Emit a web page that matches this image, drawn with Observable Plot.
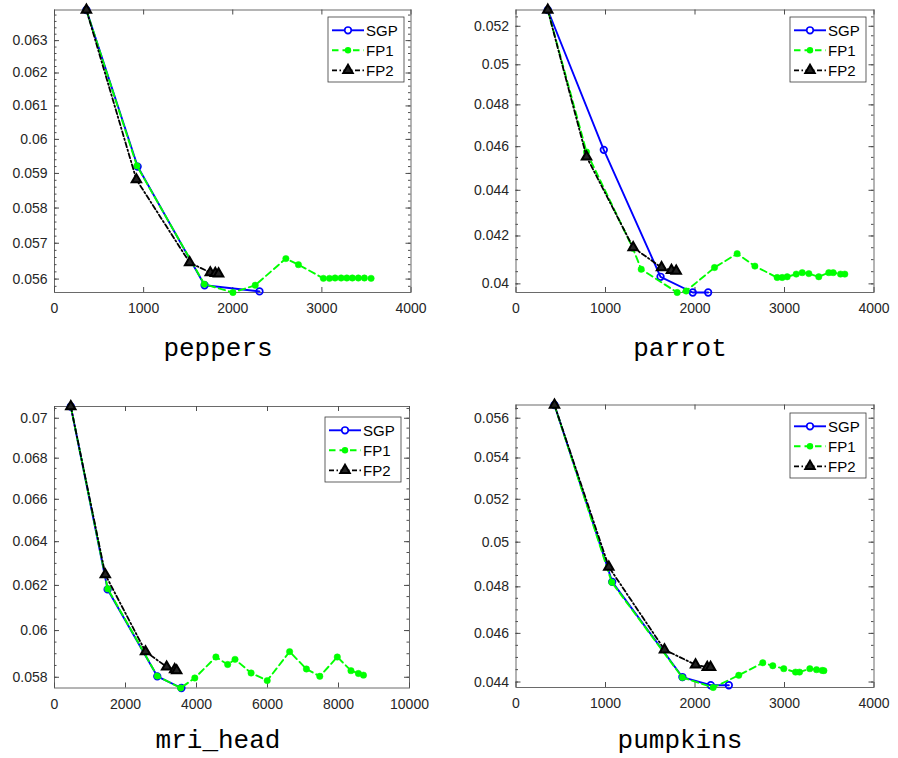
<!DOCTYPE html>
<html><head><meta charset="utf-8">
<script src="https://cdn.jsdelivr.net/npm/d3@7"></script>
<script src="https://cdn.jsdelivr.net/npm/@observablehq/plot@0.6"></script>
<style>
body{margin:0;background:#fff;}
#fig{position:relative;width:898px;height:758px;overflow:hidden;background:#fff;}
.title{position:absolute;font-family:"Liberation Mono","Courier New",monospace;font-size:26px;color:#000;transform:translate(-50%,-50%);white-space:nowrap;}
</style></head><body><div id="fig"></div>
<script>
// ---------- data ----------
const seriesNames = ["SGP", "FP1", "FP2"];
const panelNames = ["peppers", "parrot", "mri_head", "pumpkins"];

// peppers
const sgpX1 = [358, 933, 1684, 2300];
const sgpY1 = [0.06396, 0.05920, 0.05583, 0.05566];
const fp1X1 = [358, 925, 1681, 2002, 2252, 2596, 2737, 3017, 3085, 3148, 3216, 3280, 3342, 3409, 3477, 3552];
const fp1Y1 = [0.06396, 0.05922, 0.05586, 0.05563, 0.05583, 0.05657, 0.05640, 0.05602, 0.05602, 0.05603, 0.05603, 0.05603, 0.05603, 0.05603, 0.05603, 0.05602];
const fp2X1 = [358, 919, 1516, 1748, 1804, 1841];
const fp2Y1 = [0.06396, 0.05882, 0.05646, 0.05618, 0.05616, 0.05615];

// parrot
const sgpX2 = [355, 981, 1615, 1975, 2147];
const sgpY2 = [0.05287, 0.04585, 0.04029, 0.03965, 0.03965];
const fp1X2 = [355, 788, 1305, 1399, 1801, 1901, 2218, 2471, 2669, 2918, 2974, 3030, 3131, 3198, 3272, 3383, 3495, 3544, 3626, 3674];
const fp1Y2 = [0.05287, 0.04575, 0.04148, 0.0406, 0.03965, 0.03971, 0.04067, 0.04125, 0.04073, 0.04026, 0.04026, 0.04029, 0.0404, 0.04046, 0.04042, 0.04029, 0.04046, 0.04046, 0.0404, 0.0404];
const fp2X2 = [355, 788, 1309, 1626, 1737, 1790];
const fp2Y2 = [0.05287, 0.04553, 0.04151, 0.04067, 0.04056, 0.04053];

// mri_head
const sgpX3 = [459, 1496, 2895, 3575];
const sgpY3 = [0.0706, 0.06182, 0.05804, 0.05755];
const fp1X3 = [459, 1500, 2895, 3555, 3952, 4547, 4878, 5085, 5538, 5992, 6623, 7096, 7473, 7966, 8351, 8561, 8703];
const fp1Y3 = [0.0706, 0.06185, 0.05805, 0.05755, 0.05797, 0.05886, 0.05854, 0.05876, 0.05818, 0.05786, 0.05909, 0.05835, 0.05804, 0.05886, 0.05828, 0.05816, 0.05809];
const fp2X3 = [459, 1431, 2564, 3159, 3385, 3442];
const fp2Y3 = [0.0706, 0.06249, 0.05909, 0.05844, 0.05833, 0.05828];

// pumpkins
const sgpX4 = [430, 1075, 1859, 2176, 2378];
const sgpY4 = [0.05668, 0.04822, 0.0442, 0.04387, 0.04387];
const fp1X4 = [430, 1070, 1859, 2203, 2489, 2757, 2869, 2992, 3123, 3168, 3283, 3358, 3421, 3440];
const fp1Y4 = [0.05668, 0.0482, 0.04418, 0.04378, 0.04427, 0.04478, 0.04466, 0.04454, 0.0444, 0.0444, 0.04454, 0.0445, 0.04447, 0.04446];
const fp2X4 = [430, 1037, 1659, 2006, 2137, 2174];
const fp2Y4 = [0.05668, 0.04888, 0.04532, 0.0447, 0.0446, 0.0446];

// tick labels
const xTicks4000 = [0, 1000, 2000, 3000, 4000];
const xTicks10000 = [0, 2000, 4000, 6000, 8000, 10000];
const yTicks1 = [0.056, 0.057, 0.058, 0.059, 0.06, 0.061, 0.062, 0.063];
const yTicks2 = [0.04, 0.042, 0.044, 0.046, 0.048, 0.05, 0.052];
const yTicks3 = [0.058, 0.06, 0.062, 0.064, 0.066, 0.068, 0.07];
const yTicks4 = [0.044, 0.046, 0.048, 0.05, 0.052, 0.054, 0.056];

// ---------- drawing ----------
const BLUE = "#0000ff", GREEN = "#00ff00", BLACK = "#000000";
const fig = document.getElementById("fig");
const pts = (xs, ys) => xs.map((x, i) => ({x, y: ys[i]}));

function addPanel(c) {
  const W = 449, H = 330;
  const mL = c.frame[0] - c.left, mR = c.left + W - c.frame[1];
  const mT = c.frame[2] - c.top, mB = c.top + H - c.frame[3];
  const pw = c.frame[1] - c.frame[0], ph = c.frame[3] - c.frame[2];
  const sgp = pts(c.sgp[0], c.sgp[1]), fp1 = pts(c.fp1[0], c.fp1[1]), fp2 = pts(c.fp2[0], c.fp2[1]);
  const yDomain = d3.extent([...sgp, ...fp1, ...fp2], d => d.y);
  const minor = d3.range(Math.ceil(yDomain[0] / c.minorStep - 1e-6), Math.floor(yDomain[1] / c.minorStep + 1e-6) + 1).map(k => +(k * c.minorStep).toFixed(6));
  const tc = "#4d4d4d";
  const svg = Plot.plot({
    width: W, height: H,
    marginLeft: mL, marginRight: mR, marginTop: mT, marginBottom: mB,
    style: {fontFamily: "'Liberation Sans', Arial, sans-serif", fontSize: "14px", color: "#262626", background: "transparent", overflow: "visible"},
    x: {domain: c.xDomain, label: null},
    y: {type: "log", domain: yDomain, label: null},
    marks: [
      Plot.frame({stroke: "#6a6a6a", strokeWidth: 1}),
      Plot.tickY(minor, {y: d => d, insetRight: pw - 2.5, stroke: tc}),
      Plot.tickY(minor, {y: d => d, insetLeft: pw - 2.5, stroke: tc}),
      Plot.tickY(c.yTicks, {y: d => d, insetRight: pw - 5, stroke: tc}),
      Plot.tickY(c.yTicks, {y: d => d, insetLeft: pw - 5, stroke: tc}),
      Plot.tickX(c.xTicks, {x: d => d, insetTop: ph - 5, stroke: tc}),
      Plot.tickX(c.xTicks, {x: d => d, insetBottom: ph - 5, stroke: tc}),
      Plot.axisX({ticks: c.xTicks, tickSize: 0, tickPadding: 11, tickFormat: d => String(d)}),
      Plot.axisY({ticks: c.yTicks, tickSize: 0, tickPadding: 7, tickFormat: d3.format("~g")}),
      Plot.line(sgp, {x: "x", y: "y", stroke: BLUE, strokeWidth: 1.9}),
      Plot.dot(sgp, {x: "x", y: "y", r: 3.3, stroke: BLUE, strokeWidth: 1.7, fill: "none"}),
      Plot.line(fp1, {x: "x", y: "y", stroke: GREEN, strokeWidth: 1.9, strokeDasharray: "6.5,4"}),
      Plot.dot(fp1, {x: "x", y: "y", r: 3.2, fill: GREEN, stroke: GREEN, strokeWidth: 0.5}),
      Plot.line(fp2, {x: "x", y: "y", stroke: BLACK, strokeWidth: 1.8, strokeDasharray: "5,2.5,1.5,2.5"}),
      Plot.dot(fp2, {x: "x", y: "y", symbol: "triangle", r: 3.5, stroke: BLACK, fill: "#222", strokeWidth: 2})
    ]
  });
  svg.style.position = "absolute";
  svg.style.left = c.left + "px";
  svg.style.top = c.top + "px";
  fig.appendChild(svg);

  // legend box
  const lw = 76, lh = 65;
  const lg = d3.create("svg").attr("width", lw + 2).attr("height", lh + 2)
    .style("position", "absolute").style("left", (c.legend[0] - 1) + "px").style("top", (c.legend[1] - 1) + "px");
  lg.append("rect").attr("x", 1).attr("y", 1).attr("width", lw).attr("height", lh)
    .attr("fill", "#fff").attr("stroke", "#3a3a3a").attr("stroke-width", 0.8);
  const styles = [
    {stroke: BLUE, dash: null, w: 1.9},
    {stroke: GREEN, dash: "6.5,4", w: 1.9},
    {stroke: BLACK, dash: "5,2.5,1.5,2.5", w: 1.8}
  ];
  seriesNames.forEach((name, i) => {
    const yy = 14.3 + i * 20;
    const s = styles[i];
    const ln = lg.append("line").attr("x1", 5).attr("x2", 37).attr("y1", yy).attr("y2", yy)
      .attr("stroke", s.stroke).attr("stroke-width", s.w);
    if (s.dash) ln.attr("stroke-dasharray", s.dash);
    if (i === 0) lg.append("circle").attr("cx", 21).attr("cy", yy).attr("r", 3.3).attr("fill", "#fff").attr("stroke", BLUE).attr("stroke-width", 1.7);
    if (i === 1) lg.append("circle").attr("cx", 21).attr("cy", yy).attr("r", 3.2).attr("fill", GREEN);
    if (i === 2) lg.append("path").attr("transform", `translate(21,${yy})`).attr("d", d3.symbol(d3.symbolTriangle, Math.PI * 3.5 * 3.5)()).attr("fill", "#222").attr("stroke", BLACK).attr("stroke-width", 2);
    lg.append("text").attr("x", 39).attr("y", yy).attr("dy", "0.35em")
      .attr("font-family", "'Liberation Sans', Arial, sans-serif").attr("font-size", 15).attr("fill", "#000").text(name);
  });
  fig.appendChild(lg.node());

  const t = document.createElement("div");
  t.className = "title";
  t.textContent = c.name;
  t.style.left = c.titlePos[0] + "px";
  t.style.top = c.titlePos[1] + "px";
  fig.appendChild(t);
}

addPanel({name: panelNames[0], sgp: [sgpX1, sgpY1], fp1: [fp1X1, fp1Y1], fp2: [fp2X1, fp2Y1],
  xDomain: [0, 4000], xTicks: xTicks4000, yTicks: yTicks1, minorStep: 0.0002,
  left: 0, top: 0, frame: [54, 410.5, 9.5, 292], legend: [327.5, 16.5], titlePos: [218, 349]});
addPanel({name: panelNames[1], sgp: [sgpX2, sgpY2], fp1: [fp1X2, fp1Y2], fp2: [fp2X2, fp2Y2],
  xDomain: [0, 4000], xTicks: xTicks4000, yTicks: yTicks2, minorStep: 0.0005,
  left: 449, top: 0, frame: [515.5, 873.5, 9.5, 292], legend: [789.5, 16.5], titlePos: [680, 349]});
addPanel({name: panelNames[2], sgp: [sgpX3, sgpY3], fp1: [fp1X3, fp1Y3], fp2: [fp2X3, fp2Y3],
  xDomain: [0, 10000], xTicks: xTicks10000, yTicks: yTicks3, minorStep: 0.0005,
  left: 0, top: 395, frame: [54, 409, 406, 687.5], legend: [324.5, 416.5], titlePos: [218, 741]});
addPanel({name: panelNames[3], sgp: [sgpX4, sgpY4], fp1: [fp1X4, fp1Y4], fp2: [fp2X4, fp2Y4],
  xDomain: [0, 4000], xTicks: xTicks4000, yTicks: yTicks4, minorStep: 0.0005,
  left: 449, top: 395, frame: [515.5, 873.5, 404.5, 687], legend: [789.5, 413], titlePos: [680, 741]});
</script>
</body></html>
